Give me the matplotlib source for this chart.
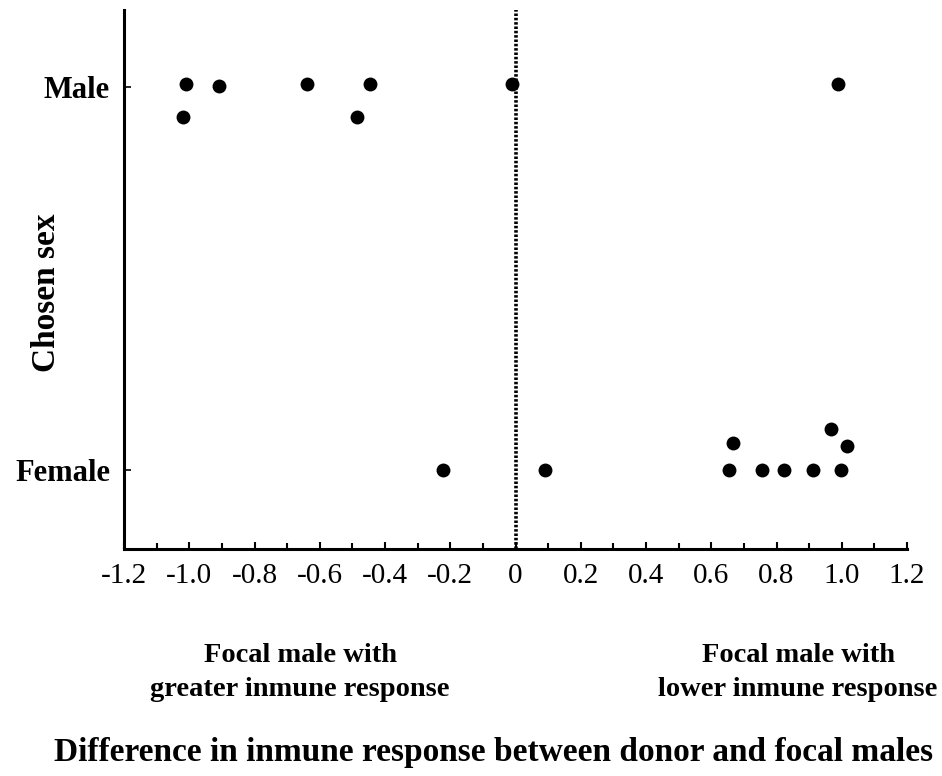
import matplotlib
matplotlib.use("Agg")
import matplotlib.pyplot as plt
import numpy as np

# Data (x = difference in immune response, y = chosen sex: 1 Male, 0 Female, with vertical offsets for overlapping points)
male_x = [-1.01, -0.91, -0.64, -0.445, -0.01, 0.99, -1.02, -0.485]
male_y = [1.008, 1.003, 1.008, 1.008, 1.008, 1.008, 0.922, 0.922]
female_x = [-0.223, 0.089, 0.655, 0.755, 0.823, 0.912, 0.997, 0.667, 0.966, 1.016]
female_y = [0.0, 0.0, 0.0, 0.0, 0.0, 0.0, 0.0, 0.072, 0.108, 0.064]
y_ticks = [0, 1]
y_labels = ["Female", "Male"]
x_ticks = [-1.2, -1.0, -0.8, -0.6, -0.4, -0.2, 0, 0.2, 0.4, 0.6, 0.8, 1.0, 1.2]
x_labels = ["-1.2", "-1.0", "-0.8", "-0.6", "-0.4", "-0.2", "0", "0.2", "0.4", "0.6", "0.8", "1.0", "1.2"]

W, H = 942, 776
fig = plt.figure(figsize=(W / 100, H / 100), dpi=100)
ax = fig.add_axes([124 / W, 1 - 549 / H, (907 - 124) / W, (549 - 10) / H])

serif = "Liberation Serif"
ax.scatter(male_x, male_y, s=100, color="black", zorder=3, linewidths=0)
ax.scatter(female_x, female_y, s=100, color="black", zorder=3, linewidths=0)
ax.axvline(0, color="black", lw=2.6, ls=(0, (0.7, 0.5)), zorder=2)

ax.set_xlim(-1.2, 1.2)
ax.set_ylim(-0.205, 1.2)
ax.set_xticks(x_ticks)
ax.set_xticklabels(x_labels, fontfamily=serif, fontsize=21)
ax.set_xticks(np.arange(-1.1, 1.2, 0.2), minor=True)
ax.set_yticks(y_ticks)
ax.set_yticklabels(y_labels, fontfamily=serif, fontsize=22, fontweight="bold")
ax.tick_params(axis="x", which="major", direction="in", length=5, width=1.5, pad=10)
ax.tick_params(axis="x", which="minor", direction="in", length=4, width=1.5)
ax.tick_params(axis="y", direction="in", length=5, width=1.2, pad=10)

for s in ["top", "right"]:
    ax.spines[s].set_visible(False)
for s in ["left", "bottom"]:
    ax.spines[s].set_linewidth(2.2)

ax.set_ylabel("Chosen sex", fontfamily=serif, fontsize=24, fontweight="bold")
ax.yaxis.set_label_coords((62 - 124) / (907 - 124), (549 - 293) / (549 - 10))

fs = 20.5
fig.text(300 / W, 1 - 655 / H, "Focal male with", ha="center", va="center",
         fontfamily=serif, fontsize=fs, fontweight="bold")
fig.text(300 / W, 1 - 690 / H, "greater inmune response", ha="center", va="center",
         fontfamily=serif, fontsize=fs, fontweight="bold")
fig.text(798 / W, 1 - 655 / H, "Focal male with", ha="center", va="center",
         fontfamily=serif, fontsize=fs, fontweight="bold")
fig.text(798 / W, 1 - 690 / H, "lower inmune response", ha="center", va="center",
         fontfamily=serif, fontsize=fs, fontweight="bold")
fig.text(494 / W, 1 - 753 / H, "Difference in inmune response between donor and focal males",
         ha="center", va="center", fontfamily=serif, fontsize=24, fontweight="bold")

fig.savefig("out.png", dpi=100)
